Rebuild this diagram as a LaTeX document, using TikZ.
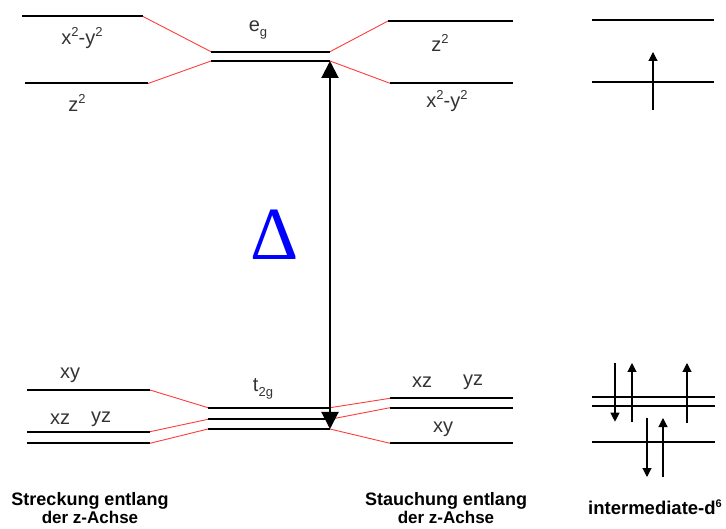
\documentclass[tikz,border=0pt]{standalone}
\usepackage{fontspec}
\setmainfont{Liberation Sans}
\newfontfamily\deltafont{Liberation Serif}
\usetikzlibrary{arrows.meta}
\definecolor{levred}{RGB}{255,60,60}
\definecolor{deltablue}{RGB}{0,0,255}
\tikzset{
  level/.style={line width=2pt, black},
  corr/.style={line width=0.9pt, levred},
  lbl/.style={font=\fontsize{20}{20}\selectfont, text=black!80, inner sep=0pt},
  captxt/.style={font=\bfseries, align=center, inner sep=0pt, anchor=north},
  spinup/.style={line width=1.1pt, -{Triangle[length=9pt,width=9pt]}},
  bigarrow/.style={line width=2pt, {Triangle[length=17pt,width=17pt]}-{Triangle[length=17pt,width=17pt]}}
}
\newcommand{\sbs}[1]{\raisebox{-4.5pt}{\fontsize{13}{13}\selectfont #1}}
\newcommand{\sps}[1]{\raisebox{8pt}{\fontsize{13}{13}\selectfont #1}}
\newcommand{\capA}[1]{\fontsize{18}{24}\selectfont #1}
\newcommand{\capB}[1]{\fontsize{17}{24}\selectfont #1}
\begin{document}
\begin{tikzpicture}[x=1pt,y=-1pt]
\useasboundingbox (0,0) rectangle (726,529);
% ---- left (Streckung) ----
\coordinate (a1) at (22,16.5);  \coordinate (a2) at (143,16.5);
\coordinate (b1) at (25,83.5);  \coordinate (b2) at (148,83.5);
\coordinate (c1) at (27,390);   \coordinate (c2) at (150,390);
\coordinate (d1) at (27,431.7); \coordinate (d2) at (150,431.7);
\coordinate (e1) at (27,443.3); \coordinate (e2) at (150,443.3);
% ---- centre (octahedral) ----
\coordinate (g1) at (211,51.7); \coordinate (g2) at (330,51.7);
\coordinate (h1) at (211,61);   \coordinate (h2) at (330,61);
\coordinate (t1) at (208,407.7); \coordinate (t2) at (330,407.7);
\coordinate (u1) at (208,419.3); \coordinate (u2) at (330,419.3);
\coordinate (v1) at (208,429);   \coordinate (v2) at (330,429);
% ---- right (Stauchung) ----
\coordinate (p1) at (388,21);   \coordinate (p2) at (513,21);
\coordinate (q1) at (390,83.3); \coordinate (q2) at (513,83.3);
\coordinate (r1) at (390,398.3); \coordinate (r2) at (513,398.3);
\coordinate (s1) at (390,407.7); \coordinate (s2) at (513,407.7);
\coordinate (w1) at (390,443.3); \coordinate (w2) at (513,443.3);
% ---- intermediate ----
\coordinate (i1) at (592,20);   \coordinate (i2) at (714,20);
\coordinate (j1) at (592,82);   \coordinate (j2) at (714,82);
\coordinate (k1) at (592,396.7); \coordinate (k2) at (715,396.7);
\coordinate (l1) at (592,406);   \coordinate (l2) at (715,406);
\coordinate (m1) at (592,441.7); \coordinate (m2) at (715,441.7);

% levels
\foreach \n in {a,b,c,d,e,g,h,t,u,v,p,q,r,s,w,i,j,k,l,m}
  \draw[level] (\n1) -- (\n2);
% correlation lines
\draw[corr] (a2) -- (g1);
\draw[corr] (b2) -- (h1);
\draw[corr] (g2) -- (p1);
\draw[corr] (h2) -- (q1);
\draw[corr] (c2) -- (t1);
\draw[corr] (d2) -- (u1);
\draw[corr] (e2) -- (v1);
\draw[corr] (t2) -- (r1);
\draw[corr] (u2) -- (s1);
\draw[corr] (v2) -- (w1);

% Delta arrow
\draw[bigarrow] (h2) -- (v2);
\node[text=deltablue, font=\deltafont\fontsize{75}{75}\selectfont, inner sep=0pt] (delta) at (275,235) {Δ};

% labels
\node[lbl] (lx2y2) at (82,38) {x\sps{2}-y\sps{2}};
\node[lbl] (lz2) at (77,103) {z\sps{2}};
\node[lbl] (leg) at (258,30) {e\sbs{g}};
\node[lbl] (rz2) at (440,43) {z\sps{2}};
\node[lbl] (rx2y2) at (447,101) {x\sps{2}-y\sps{2}};
\node[lbl] (lxy) at (70,375) {xy};
\node[lbl] (lxz) at (60,419) {xz};
\node[lbl] (lyz) at (101,419) {yz};
\node[lbl] (lt2g) at (263,389) {t\sbs{2g}};
\node[lbl] (rxz) at (422,382) {xz};
\node[lbl] (ryz) at (473,382) {yz};
\node[lbl] (rxy) at (443,429) {xy};

% captions
\node[captxt] (cs) at (90,492) {\capA{Streckung entlang}\\[1pt]\capB{der z-Achse}};
\node[captxt] (ct) at (446,492) {\capA{Stauchung entlang}\\[1pt]\capB{der z-Achse}};
\node[captxt, font=\bfseries\fontsize{18.5}{20}\selectfont] (ci) at (655,500) {intermediate-d\raisebox{7pt}{\fontsize{11}{11}\selectfont 6}};

% spin arrows
\coordinate (sa1) at (653,110); \coordinate (sa2) at (653,52);
\draw[spinup] (sa1) -- (sa2);
\coordinate (sb1) at (615,363); \coordinate (sb2) at (615,421.7);
\draw[spinup] (sb1) -- (sb2);
\coordinate (sc1) at (632,421.7); \coordinate (sc2) at (632,363);
\draw[spinup] (sc1) -- (sc2);
\coordinate (sd1) at (687,423); \coordinate (sd2) at (687,363);
\draw[spinup] (sd1) -- (sd2);
\coordinate (se1) at (647,418); \coordinate (se2) at (647,477);
\draw[spinup] (se1) -- (se2);
\coordinate (sf1) at (663,477); \coordinate (sf2) at (663,418);
\draw[spinup] (sf1) -- (sf2);
\end{tikzpicture}
\end{document}
